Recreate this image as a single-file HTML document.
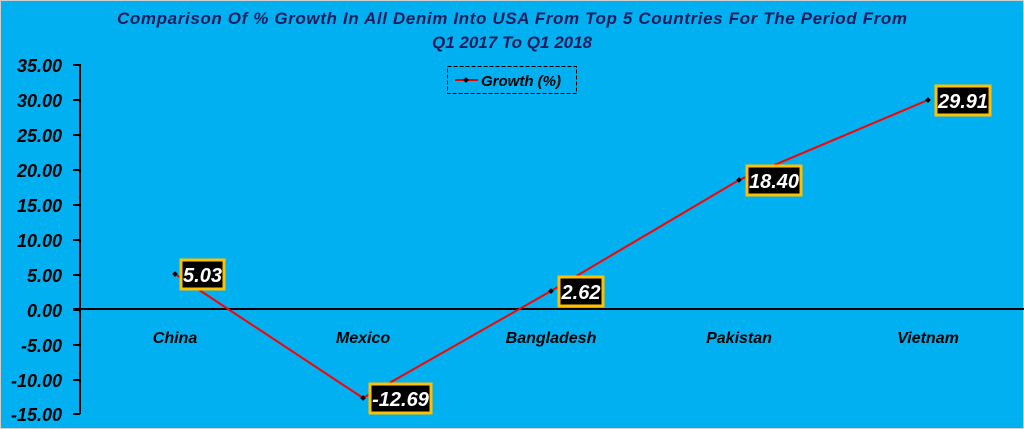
<!DOCTYPE html>
<html><head><meta charset="utf-8"><style>
body{margin:0;background:#fff}
svg{display:block;font-family:"Liberation Sans",sans-serif;font-weight:bold;font-style:italic}
</style></head><body>
<svg width="1024" height="429" viewBox="0 0 1024 429">
<rect x="0.5" y="0.5" width="1023" height="428" fill="#00b0f0" stroke="#d0d0d0"/>
<text x="512" y="24" text-anchor="middle" font-size="17" fill="#1c1c5c" textLength="790">Comparison Of % Growth In All Denim Into USA From Top 5 Countries For The Period From</text>
<text x="512" y="48" text-anchor="middle" font-size="17" fill="#1c1c5c">Q1 2017 To Q1 2018</text>
<g font-size="18" fill="#000" text-anchor="end">
<text x="62" y="72">35.00</text><text x="62" y="107">30.00</text><text x="62" y="142">25.00</text>
<text x="62" y="177">20.00</text><text x="62" y="212">15.00</text><text x="62" y="247">10.00</text>
<text x="62" y="282">5.00</text><text x="62" y="317">0.00</text><text x="62" y="352">-5.00</text>
<text x="62" y="387">-10.00</text><text x="62" y="421">-15.00</text>
</g>
<g stroke="#000" stroke-width="2">
<line x1="80" y1="64" x2="80" y2="414"/>
<line x1="73" y1="65" x2="80" y2="65"/><line x1="73" y1="100" x2="80" y2="100"/><line x1="73" y1="135" x2="80" y2="135"/>
<line x1="73" y1="170" x2="80" y2="170"/><line x1="73" y1="205" x2="80" y2="205"/><line x1="73" y1="240" x2="80" y2="240"/>
<line x1="73" y1="275" x2="80" y2="275"/><line x1="73" y1="310" x2="80" y2="310"/><line x1="73" y1="345" x2="80" y2="345"/>
<line x1="73" y1="380" x2="80" y2="380"/><line x1="73" y1="414" x2="80" y2="414"/>
<line x1="73" y1="309" x2="1024" y2="309"/>
</g>
<g font-size="16" fill="#000" text-anchor="middle">
<text x="175" y="343">China</text><text x="363" y="343">Mexico</text><text x="551" y="343">Bangladesh</text>
<text x="739" y="343">Pakistan</text><text x="928" y="343">Vietnam</text>
</g>
<rect x="447.5" y="66.5" width="129" height="27" fill="none" stroke="#000" stroke-dasharray="4,2"/>
<line x1="455" y1="80" x2="478" y2="80" stroke="#e00" stroke-width="2"/>
<rect x="464" y="78" width="4" height="4" fill="#000" transform="rotate(45 466 80)"/>
<text x="481" y="86" font-size="15" fill="#000">Growth (%)</text>
<polyline points="175,274 363,398 551,291 739,180 928,100" fill="none" stroke="#f00" stroke-width="2"/>
<g fill="#000">
<rect x="173" y="272" width="4" height="4" transform="rotate(45 175 274)"/>
<rect x="361" y="396" width="4" height="4" transform="rotate(45 363 398)"/>
<rect x="549" y="289" width="4" height="4" transform="rotate(45 551 291)"/>
<rect x="737" y="178" width="4" height="4" transform="rotate(45 739 180)"/>
<rect x="926" y="98" width="4" height="4" transform="rotate(45 928 100)"/>
</g>
<g fill="#000" stroke="#ffc000" stroke-width="3">
<rect x="181" y="260" width="43" height="29"/>
<rect x="370" y="384" width="61" height="29"/>
<rect x="559" y="277" width="44" height="29"/>
<rect x="747" y="166" width="54" height="29"/>
<rect x="936" y="86" width="54" height="29"/>
</g>
<g font-size="20" fill="#fff" text-anchor="middle">
<text x="202.5" y="282">5.03</text><text x="400.5" y="406">-12.69</text><text x="581" y="299">2.62</text>
<text x="774" y="188">18.40</text><text x="963" y="108">29.91</text>
</g>
</svg>
</body></html>
